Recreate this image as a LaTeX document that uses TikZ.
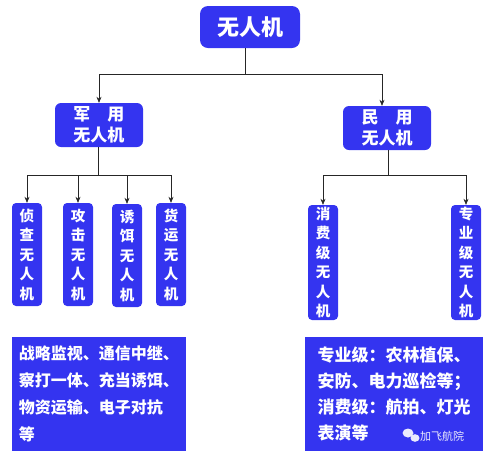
\documentclass[tikz,border=0pt]{standalone}
\usepackage{fontspec}
\setmainfont{Noto Sans CJK SC}
\usepackage{tikz}
\usetikzlibrary{arrows.meta}
\definecolor{uavblue}{RGB}{52,52,240}

\begin{document}
\begin{tikzpicture}[x=1pt,y=-1pt]
    \tikzstyle{uavbox} = [fill=uavblue, text=white, rounded corners=6pt, align=center, inner sep=0pt, font=\bfseries\fontsize{17}{21}\selectfont]
    \tikzstyle{typebox} = [uavbox, rounded corners=4pt, minimum width=30pt, font=\bfseries\fontsize{14.5}{19.5}\selectfont]
    \tikzstyle{usebox} = [fill=uavblue, text=white, align=left, inner sep=0pt, minimum width=176pt, minimum height=114pt]
    \tikzstyle{link} = [black!85, line width=0.6pt]
    \tikzstyle{arr} = [link, -{Stealth[length=6pt,width=5pt]}]
    \useasboundingbox (0,0) rectangle (499,459);
    % top
    \node[uavbox, rounded corners=8pt, minimum width=100pt, minimum height=42pt, font=\bfseries\fontsize{22}{26}\selectfont] (uav) at (250,27) {无人机};
    % second level
    \node[uavbox, minimum width=88pt, minimum height=44pt] (mil) at (99,125) {军\hspace{1em}用\\无人机};
    \node[uavbox, minimum width=88pt, minimum height=44pt] (civ) at (387,128) {民\hspace{1em}用\\无人机};
    % military types
    \node[typebox, minimum height=103pt] (recon) at (27,254.5) {侦\\查\\无\\人\\机};
    \node[typebox, minimum height=103pt] (strike) at (78,254.5) {攻\\击\\无\\人\\机};
    \node[typebox, minimum height=103pt] (decoy) at (127,255.5) {诱\\饵\\无\\人\\机};
    \node[typebox, minimum height=103pt] (cargo) at (171,254.5) {货\\运\\无\\人\\机};
    % civil types
    \node[typebox, minimum height=115pt] (consumer) at (323,262.5) {消\\费\\级\\无\\人\\机};
    \node[typebox, minimum height=115pt] (pro) at (466,262.5) {专\\业\\级\\无\\人\\机};
    % uses
    \node[usebox, minimum width=174pt, font=\bfseries\fontsize{16}{27}\selectfont] (miluse) at (99,394)
        {战略监视、通信中继、\\察打一体、充当诱饵、\\物资运输、电子对抗\\等};
    \node[usebox, minimum width=178pt, font=\bfseries\fontsize{17}{26}\selectfont] (civuse) at (394,394)
        {专业级：农林植保、\\安防、电力巡检等；\\消费级：航拍、灯光\\表演等\hspace{6em}};
    % watermark
    \fill[white!90!uavblue] (408,433) ellipse (5.5pt and 4.5pt);
    \fill[white!90!uavblue] (415,438) ellipse (4.5pt and 3.8pt);
    \node[text=white!90!uavblue, font=\fontsize{11}{13}\selectfont, inner sep=0pt] (mark) at (442,436) {加飞航院};
    % connectors
    \draw[link] ([xshift=-5pt]uav.south) -- ++(0,26) coordinate (busT);
    \draw[arr] (busT) -| (mil.north);
    \draw[arr] (busT) -| ([xshift=-5pt]civ.north);
    \draw[link] ([xshift=-1pt]mil.south) -- ++(0,28) coordinate (busM);
    \foreach \n in {recon,strike,decoy,cargo} {
        \draw[arr] (busM) -| (\n.north);
    }
    \draw[link] ([xshift=1pt]civ.south) -- ++(0,25) coordinate (busC);
    \foreach \n in {consumer,pro} {
        \draw[arr] (busC) -| (\n.north);
    }
\end{tikzpicture}
\end{document}
